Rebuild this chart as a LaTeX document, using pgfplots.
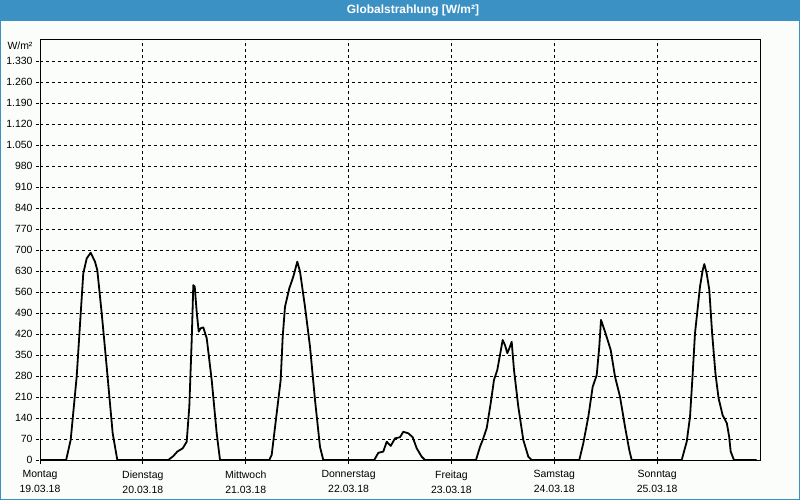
\documentclass[border=0pt]{standalone}
\usepackage{fontspec}
\setmainfont{Liberation Sans}
\usepackage{pgfplots}
\pgfplotsset{compat=1.18}
\definecolor{framebl}{HTML}{3C91C4}
\definecolor{bgc}{HTML}{FBFDFB}
\pgfplotstableread{
h v
0 0
6.1 0
7.16 67
8.56 278
9.50 489
10.10 622
10.90 672
11.83 691
12.83 661
13.37 633
14.40 489
15.56 311
16.96 89
18.04 0
29.94 0
31.10 13
32.04 28
33.30 39
34.23 61
34.84 178
35.40 400
35.77 583
36.10 578
36.56 494
37.03 428
37.50 439
38.10 442
38.90 406
40.06 267
41.23 89
42.00 0
53.50 0
54.06 17
55.23 156
56.16 267
56.63 411
57.17 511
58.17 572
59.10 611
60.04 661
60.67 628
61.83 511
63.00 378
64.17 200
65.33 44
66.10 0
78.00 0
78.94 24
80.10 28
80.90 61
81.83 47
82.83 72
84.00 76
84.77 94
85.94 89
86.96 76
87.90 39
89.06 11
89.83 0
101.73 0
102.67 44
103.30 67
104.23 106
105.16 189
105.93 267
106.70 300
107.33 350
107.96 400
108.50 383
109.04 356
109.50 372
110.06 394
110.60 300
111.60 178
112.77 67
113.94 11
114.73 0
125.84 0
126.77 56
127.94 144
128.96 244
129.90 283
130.50 378
130.90 467
131.83 428
133.16 367
134.17 278
135.33 211
136.50 111
137.50 33
138.06 0
149.73 0
150.90 61
151.67 144
152.30 289
152.83 422
153.37 494
154.00 578
154.63 633
155.00 653
155.56 622
156.17 567
156.83 422
157.60 289
158.33 206
159.27 150
160.27 122
160.80 78
161.16 28
161.93 0
167.23 0
}\radiation
\begin{document}
\begin{tikzpicture}
\fill[bgc] (-40bp,-40bp) rectangle (760bp,460bp);
\fill[framebl] (-40bp,439bp) rectangle (760bp,460bp);
\draw[framebl, line width=1bp] (-39.5bp,-39.5bp) rectangle (759.5bp,440bp);
\node[text=white, font=\bfseries\fontsize{12}{14}\selectfont] at (373bp,449.5bp) {Globalstrahlung [W/m²]};
\begin{axis}[
  at={(0,0)}, anchor=south west,
  scale only axis, width=720bp, height=420bp,
  xmin=0, xmax=168, ymin=0, ymax=1400,
  xtick={0,24,48,72,96,120,144},
  xticklabels={{Montag\\19.03.18},{Dienstag\\20.03.18},{Mittwoch\\21.03.18},{Donnerstag\\22.03.18},{Freitag\\23.03.18},{Samstag\\24.03.18},{Sonntag\\25.03.18}},
  xticklabel style={align=center, font=\fontsize{10.5}{15}\selectfont, yshift=-3bp},
  ytick={0,70,140,210,280,350,420,490,560,630,700,770,840,910,980,1050,1120,1190,1260,1330},
  yticklabels={0,70,140,210,280,350,420,490,560,630,700,770,840,910,980,1.050,1.120,1.190,1.260,1.330},
  yticklabel style={font=\fontsize{10.5}{12}\selectfont},
  /pgf/number format/assume math mode=true,
  grid=major,
  major grid style={black, dash pattern=on 3bp off 3bp, line width=0.8bp},
  axis line style={black, line width=1bp},
  tick pos=left, tick align=outside, major tick length=4bp,
  tick style={black, line width=0.8bp, dash pattern=on 3bp off 3bp},
]
\addplot[black, line width=1.8bp, line join=round] table[x=h, y=v] {\radiation};
\end{axis}
\node[anchor=east, font=\fontsize{10.5}{12}\selectfont] at (-4bp,414bp) {W/m²};
\pgfresetboundingbox
\useasboundingbox (-40bp,-40bp) rectangle (760bp,460bp);
\end{tikzpicture}
\end{document}
